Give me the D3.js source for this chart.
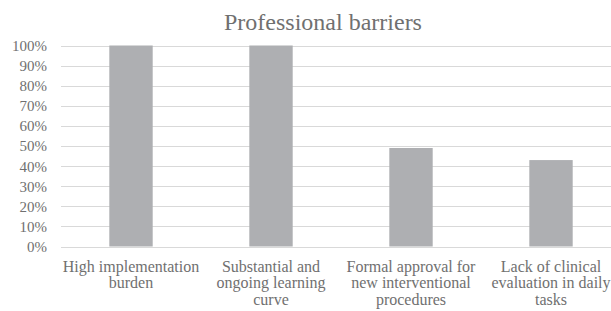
<!DOCTYPE html>
<html>
<head>
<meta charset="utf-8">
<script src="https://cdn.jsdelivr.net/npm/d3@7"></script>
<style>
  html, body { margin: 0; padding: 0; background: #fff; overflow: hidden; }
  svg { display: block; }
</style>
</head>
<body>
<svg id="chart" width="611" height="311"></svg>
<script>
const title = 'Professional barriers';
const categories = [
  'High implementation burden',
  'Substantial and ongoing learning curve',
  'Formal approval for new interventional procedures',
  'Lack of clinical evaluation in daily tasks'
];
const values = [100, 100, 49, 43];
const yTicks = [0, 10, 20, 30, 40, 50, 60, 70, 80, 90, 100];

const FONT = '"Liberation Serif"';
const svg = d3.select('#chart');
// the plot area runs past the right edge of the picture, as in the original
const plot = {left: 61, right: 621, top: 45.5, bottom: 246.5};

const x = d3.scaleBand()
  .domain(categories)
  .range([plot.left, plot.right])
  .paddingInner(0.69)
  .paddingOuter(0.345);

const y = d3.scaleLinear()
  .domain([0, 100])
  .range([plot.bottom, plot.top]);

svg.append('text')
  .attr('x', 323)
  .attr('y', 30)
  .attr('text-anchor', 'middle')
  .style('font-family', FONT)
  .style('font-size', '24px')
  .style('fill', '#707070')
  .text(title);

// gridlines
svg.append('g')
  .selectAll('line')
  .data(yTicks)
  .join('line')
  .attr('x1', plot.left)
  .attr('x2', plot.right)
  .attr('y1', d => Math.round(y(d)) + 0.5)
  .attr('y2', d => Math.round(y(d)) + 0.5)
  .attr('stroke', '#d9d9d9')
  .attr('stroke-width', 1);

// y axis labels
const yAxis = svg.append('g')
  .attr('transform', `translate(${plot.left - 14},0)`)
  .call(d3.axisLeft(y).tickValues(yTicks).tickSize(0).tickPadding(0).tickFormat(d => d + '%'));
yAxis.select('.domain').remove();
yAxis.attr('font-family', null).attr('font-size', null);
yAxis.selectAll('text')
  .style('font-family', FONT)
  .style('font-size', '15px')
  .style('fill', '#707070')
  .attr('dy', '0.33em');

// bars
svg.append('g')
  .selectAll('rect')
  .data(values)
  .join('rect')
  .attr('x', (d, i) => x(categories[i]))
  .attr('width', x.bandwidth())
  .attr('y', d => y(d))
  .attr('height', d => y(0) - y(d))
  .attr('fill', '#aeafb2');

// category labels, wrapped to the band step
const xAxis = svg.append('g')
  .attr('transform', `translate(0,${plot.bottom})`)
  .call(d3.axisBottom(x).tickSize(0).tickPadding(0));
xAxis.select('.domain').remove();
xAxis.attr('font-family', null).attr('font-size', null);
xAxis.selectAll('text')
  .style('font-family', FONT)
  .style('font-size', '16px')
  .style('fill', '#707070')
  .attr('dy', null)
  .each(function (d) { wrap(d3.select(this), d, x.step()); });

function wrap(text, label, maxWidth) {
  const words = label.split(' ');
  text.text(null);
  let lines = [], line = [];
  const probe = text.append('tspan');
  words.forEach(w => {
    line.push(w);
    probe.text(line.join(' '));
    if (probe.node().getComputedTextLength() > maxWidth && line.length > 1) {
      line.pop();
      lines.push(line.join(' '));
      line = [w];
    }
  });
  lines.push(line.join(' '));
  probe.remove();
  lines.forEach((l, i) => {
    text.append('tspan')
      .attr('x', 0)
      .attr('y', 25 + i * 16.7)
      .text(l);
  });
}
</script>
</body>
</html>
